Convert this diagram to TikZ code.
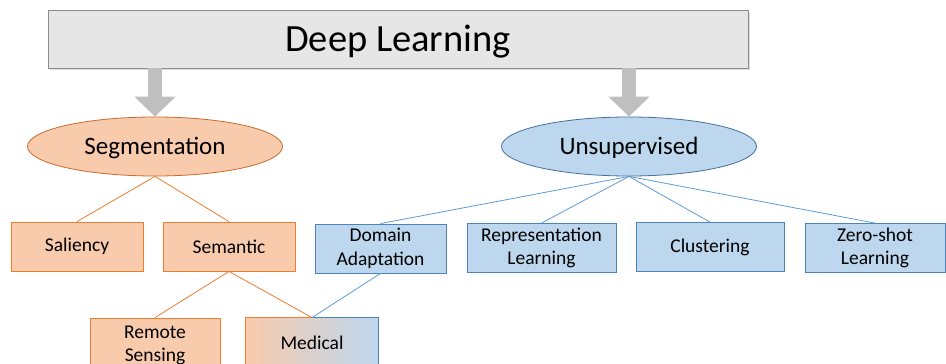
\documentclass[tikz,border=0pt]{standalone}
\usepackage{fontspec}
\setmainfont{Carlito}
\usepackage{xcolor}
\usepackage{tikz}
\usetikzlibrary{arrows.meta,shapes.geometric,shadows}
\definecolor{segOrange}{HTML}{ED7D31}
\definecolor{segPeach}{HTML}{F8CBAD}
\definecolor{unsBlue}{HTML}{5B9BD5}
\definecolor{unsDark}{HTML}{41719C}
\definecolor{unsSky}{HTML}{BDD7EE}
\definecolor{rootGray}{HTML}{E7E6E6}

\begin{document}
\begin{tikzpicture}[
  x=1pt,y=-1pt,
  root/.style={rectangle,draw=gray!90,fill=rootGray,thick,minimum width=700pt,minimum height=58pt,
    text depth=0.08em,font=\fontsize{38.5}{44}\selectfont,drop shadow={opacity=0.25,shadow xshift=1.5pt,shadow yshift=-1.5pt}},
  topic/.style={ellipse,thick,minimum width=255pt,minimum height=59pt,inner sep=0pt,text depth=0.05em,font=\fontsize{25}{30}\selectfont},
  leaf/.style={rectangle,thick,minimum height=49pt,inner sep=0pt,align=center,font=\fontsize{19.5}{23.5}\selectfont},
  seg/.style={draw=segOrange,fill=segPeach},
  uns/.style={draw=unsBlue!85!black,fill=unsSky},
  bigarrow/.style={line width=14pt,color=gray!50,-{Triangle[width=40pt,length=20pt]}},
  segline/.style={segOrange,line width=0.8pt},
  unsline/.style={unsBlue,line width=0.8pt}
]
\useasboundingbox (0,0) rectangle (946,364);
\node[root] (dl) at (398,39) {Deep Learning};
\node[topic,draw=segOrange!85!black,fill=segPeach] (segm) at (155,146.5) {Segmentation};
\node[topic,draw=unsDark,fill=unsSky] (unsup) at (629,146.5) {Unsupervised};
% segmentation branch
\node[leaf,seg,minimum width=132pt] (sal) at (77,246.5) {Saliency};
\node[leaf,seg,minimum width=132pt] (sem) at (229,246.5) {Semantic};
\node[leaf,seg,minimum width=130pt,minimum height=55pt] (rs) at (155,345.5) {Remote\\Sensing};
\node[leaf,minimum width=132pt,left color=segPeach,right color=unsSky] (med) at (312,342.5) {Medical};
% unsupervised branch
\node[leaf,uns,minimum width=131pt] (da) at (380.5,248.5) {Domain\\Adaptation};
\node[leaf,uns,minimum width=149pt] (rl) at (541.5,248) {Representation\\Learning};
\node[leaf,uns,minimum width=148pt] (cl) at (710,247) {Clustering};
\node[leaf,uns,minimum width=140pt] (zs) at (875,248) {Zero-shot\\Learning};
\draw[segOrange,thick] (med.north) -- (med.north west) -- (med.south west);
\draw[unsBlue!85!black,thick] (med.north) -- (med.north east) -- (med.south east);
\draw[bigarrow] (dl.south -| segm) -- (segm.north);
\draw[bigarrow] (dl.south -| unsup) -- (unsup.north);
\draw[segline] (segm.south) -- (sal.north);
\draw[segline] (segm.south) -- (sem.north);
\draw[segline] (sem.south) -- (rs.north);
\draw[segline] (sem.south) -- (med.north);
\draw[unsline] (da.south) -- (med.north);
\draw[unsline] (unsup.south) -- (da.north);
\draw[unsline] (unsup.south) -- (rl.north);
\draw[unsline] (unsup.south) -- (cl.north);
\draw[unsline] (unsup.south) -- (zs.north);
\end{tikzpicture}
\end{document}
